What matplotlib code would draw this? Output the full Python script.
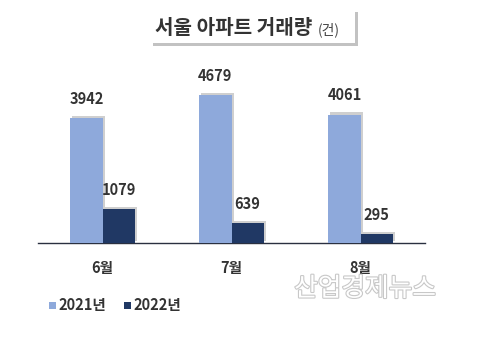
import matplotlib
matplotlib.use("Agg")
import matplotlib.pyplot as plt
import matplotlib.patheffects as pe
from matplotlib.patches import Rectangle
import numpy as np

plt.rcParams['font.family'] = ['Noto Sans CJK KR', 'DejaVu Sans']

categories = ['6월', '7월', '8월']
series_names = ['2021년', '2022년']
values_2021 = [3942, 4679, 4061]
values_2022 = [1079, 639, 295]
colors = ['#8EA9DB', '#203864']
title_main = '서울 아파트 거래량'
title_unit = '(건)'
watermark = '산업경제뉴스'

fig = plt.figure(figsize=(4.8, 3.47), dpi=100)
ax = fig.add_axes([38/480, 1-243/347, 387/480, 183.5/347])

x = np.arange(len(categories))
w = 0.25
shadow = [pe.SimplePatchShadow(offset=(1.5, 1.5), shadow_rgbFace='#888888', alpha=0.4), pe.Normal()]
b1 = ax.bar(x - w/2, values_2021, w, color=colors[0], path_effects=shadow, zorder=3)
b2 = ax.bar(x + w/2, values_2022, w, color=colors[1], path_effects=shadow, zorder=3)

for bars, vals in ((b1, values_2021), (b2, values_2022)):
    for r, v in zip(bars, vals):
        ax.annotate(f'{v}', (r.get_x() + r.get_width()/2, v), xytext=(0, 8),
                    textcoords='offset points', ha='center', va='bottom',
                    fontsize=10.5, fontweight='bold', color='#333333')

ax.set_xlim(-0.5, 2.5)
ax.set_ylim(0, 5800)
ax.set_xticks(x)
ax.set_xticklabels(categories, fontsize=10.5, fontweight='bold', color='#333333')
ax.tick_params(axis='x', length=0, pad=12)
ax.set_yticks([])
for s in ('left', 'right', 'top'):
    ax.spines[s].set_visible(False)
ax.spines['bottom'].set_color('#2a3040')
ax.spines['bottom'].set_linewidth(1.0)
ax.patch.set_alpha(0)

# title box with shadow
fig.patches.append(Rectangle((153/480, 1-46/347), 205/480, 34/347, transform=fig.transFigure,
                             facecolor='#9a9a9a', edgecolor='none', alpha=0.6, zorder=1))
fig.patches.append(Rectangle((150/480, 1-43/347), 205/480, 34/347, transform=fig.transFigure,
                             facecolor='white', edgecolor='none', zorder=2))
fig.text(155/480, 1-28/347, title_main, fontsize=14.5, fontweight='bold', color='#333333',
         ha='left', va='center', zorder=3)
fig.text(318/480, 1-30/347, title_unit, fontsize=10, color='#444444', ha='left', va='center', zorder=3)

# legend
for i, (name, c) in enumerate(zip(series_names, colors)):
    x0 = [49, 124][i]
    fig.patches.append(Rectangle((x0/480, 1-309/347), 7/480, 7/347, transform=fig.transFigure,
                                 facecolor=c, edgecolor='none'))
    fig.text((x0 + 9)/480, 1-305/347, name, fontsize=10.5, fontweight='bold', color='#333333',
             ha='left', va='center')

# watermark
fig.text(365/480, 1-289/347, watermark, fontsize=18.5, color='white', ha='center', va='center',
         path_effects=[pe.withStroke(linewidth=1.6, foreground='#c8c8c8')])

fig.savefig('out.png', dpi=100)
